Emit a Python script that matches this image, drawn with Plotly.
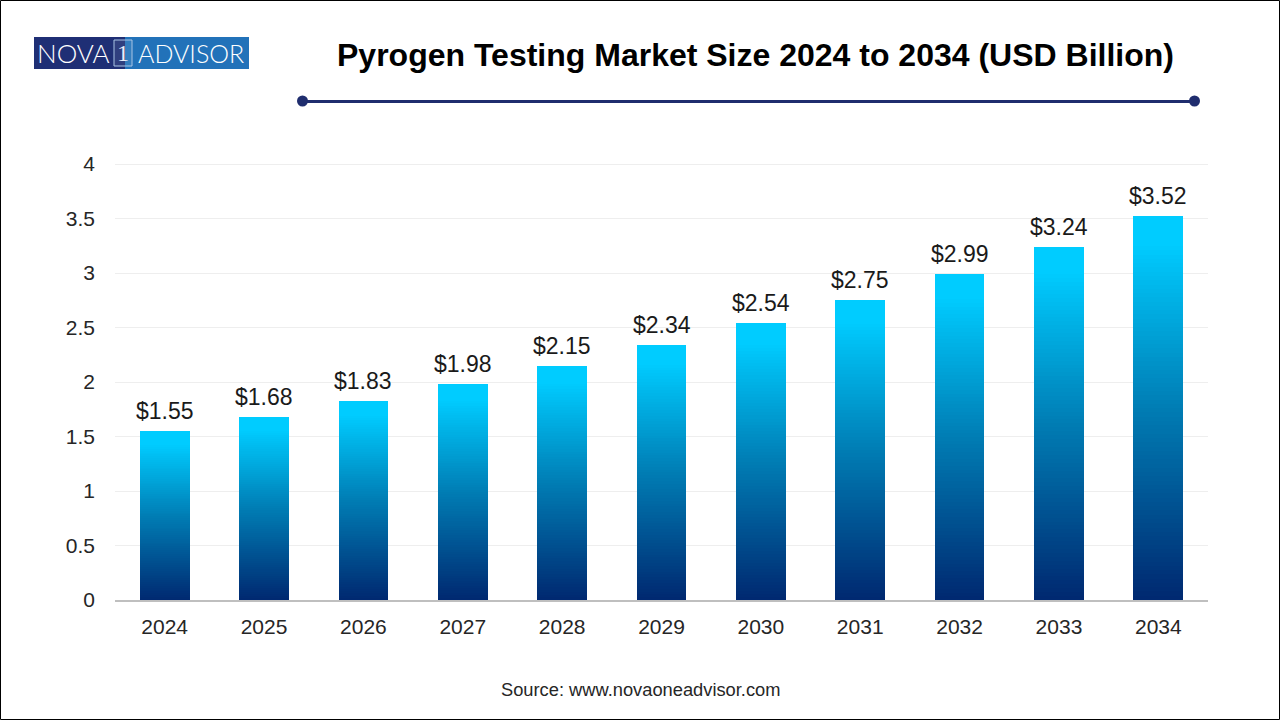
import plotly.graph_objects as go

years = ['2024', '2025', '2026', '2027', '2028', '2029', '2030', '2031', '2032', '2033', '2034']
market_size = [1.55, 1.68, 1.83, 1.98, 2.15, 2.34, 2.54, 2.75, 2.99, 3.24, 3.52]
y_ticks = [0, 0.5, 1, 1.5, 2, 2.5, 3, 3.5, 4]

W, H = 1280, 720
FONT = 'Liberation Sans'
NAVY = '#1f2d6e'
Y_MAX = 4.012  # a hair over 4 so plotly keeps the gridline at 4


def px_x(x):
    return x / W


def px_y(y):
    return 1 - y / H


def gradient_color(t):
    # t=0 at the foot of the bar, t=1 towards the top
    stops = [(0.0, (0, 40, 112)), (0.5, (0, 125, 180)), (0.93, (0, 204, 255)), (1.0, (0, 204, 255))]
    for (a, ca), (b, cb) in zip(stops, stops[1:]):
        if t <= b:
            f = (t - a) / (b - a)
            return 'rgb(%d,%d,%d)' % tuple(round(p + (q - p) * f) for p, q in zip(ca, cb))
    return 'rgb(0,204,255)'


fig = go.Figure()

# plotly bars have no gradient fill, so stack thin slices running from bottom colour to top colour
n_steps = 90
for i in range(n_steps):
    fig.add_trace(go.Bar(
        x=years,
        y=[v / n_steps for v in market_size],
        width=0.5,
        marker=dict(color=gradient_color((i + 0.5) / n_steps), line=dict(width=0)),
        hoverinfo='skip',
        showlegend=False,
    ))

shapes = [
    # outer frame
    dict(type='rect', xref='paper', yref='paper', x0=px_x(0.5), x1=px_x(W - 0.5), y0=px_y(0.5), y1=px_y(H - 0.5),
         line=dict(color='#000000', width=1), layer='below'),
    # logo blocks
    dict(type='rect', xref='paper', yref='paper', x0=px_x(34), x1=px_x(125), y0=px_y(37), y1=px_y(69),
         fillcolor='#1f2f75', line=dict(width=0)),
    dict(type='rect', xref='paper', yref='paper', x0=px_x(125), x1=px_x(249), y0=px_y(37), y1=px_y(69),
         fillcolor='#2272b9', line=dict(width=0)),
    dict(type='rect', xref='paper', yref='paper', x0=px_x(114), x1=px_x(132), y0=px_y(40), y1=px_y(66),
         fillcolor='rgba(255,255,255,0.08)', line=dict(color='#a9c4e4', width=1)),
    # rule under the title
    dict(type='line', xref='paper', yref='paper', x0=px_x(302), x1=px_x(1194), y0=px_y(101.5), y1=px_y(101.5),
         line=dict(color=NAVY, width=3)),
    dict(type='circle', xref='paper', yref='paper', x0=px_x(297), x1=px_x(308), y0=px_y(95.5), y1=px_y(106.5),
         fillcolor=NAVY, line=dict(width=0)),
    dict(type='circle', xref='paper', yref='paper', x0=px_x(1189), x1=px_x(1200), y0=px_y(95.5), y1=px_y(106.5),
         fillcolor=NAVY, line=dict(width=0)),
]

annotations = [
    dict(text='<b>Pyrogen Testing Market Size 2024 to 2034 (USD Billion)</b>', x=px_x(755.5), y=px_y(55),
         font=dict(family=FONT, size=32, color='#000000')),
    dict(text='Source: www.novaoneadvisor.com', x=px_x(640.5), y=px_y(689),
         font=dict(family=FONT, size=18.3, color='#262626')),
    dict(text='NOVA', x=px_x(73.5), y=px_y(53.5), font=dict(family='Lato', size=26, color='#ffffff', weight=300)),
    dict(text='1', x=px_x(123), y=px_y(53.5), font=dict(family='Liberation Serif', size=24, color='#e8eef8')),
    dict(text='ADVISOR', x=px_x(190.5), y=px_y(53.5), font=dict(family='Lato', size=25, color='#ffffff', weight=300)),
]
for a in annotations:
    a.update(xref='paper', yref='paper', showarrow=False, xanchor='center', yanchor='middle')

# value labels sit a little above the bars; numeric-looking categories need the index as x
for idx, value in enumerate(market_size):
    annotations.append(dict(
        text=f'${value:.2f}', x=idx, y=value, xref='x', yref='y',
        showarrow=False, xanchor='center', yanchor='bottom', yshift=5,
        font=dict(family=FONT, size=23, color='#1a1a1a'),
    ))

fig.update_layout(
    width=W,
    height=H,
    autosize=False,
    margin=dict(l=0, r=0, t=0, b=0),
    paper_bgcolor='#ffffff',
    plot_bgcolor='#ffffff',
    barmode='stack',
    bargap=0.5,
    showlegend=False,
    shapes=shapes,
    annotations=annotations,
    xaxis=dict(
        domain=[px_x(115), px_x(1208)],
        type='category',
        categoryorder='array',
        categoryarray=years,
        range=[-0.5, len(years) - 0.5],
        automargin=False,
        showgrid=False,
        showline=True,
        linecolor='#bfbfbf',
        linewidth=2,
        ticks='',
        ticklabelstandoff=7,
        tickfont=dict(family=FONT, size=21, color='#262626'),
    ),
    yaxis=dict(
        domain=[px_y(600), px_y(600 - 109 * Y_MAX)],
        range=[0, Y_MAX],
        tickvals=y_ticks,
        ticktext=[f'{t:g}' for t in y_ticks],
        automargin=False,
        showgrid=True,
        gridcolor='#eeeeee',
        gridwidth=1,
        zeroline=False,
        ticks='',
        ticklabelstandoff=19,
        tickfont=dict(family=FONT, size=21, color='#262626'),
    ),
)

fig.write_html('out.html', config=dict(displayModeBar=False), post_script="document.body.style.margin='0';")
